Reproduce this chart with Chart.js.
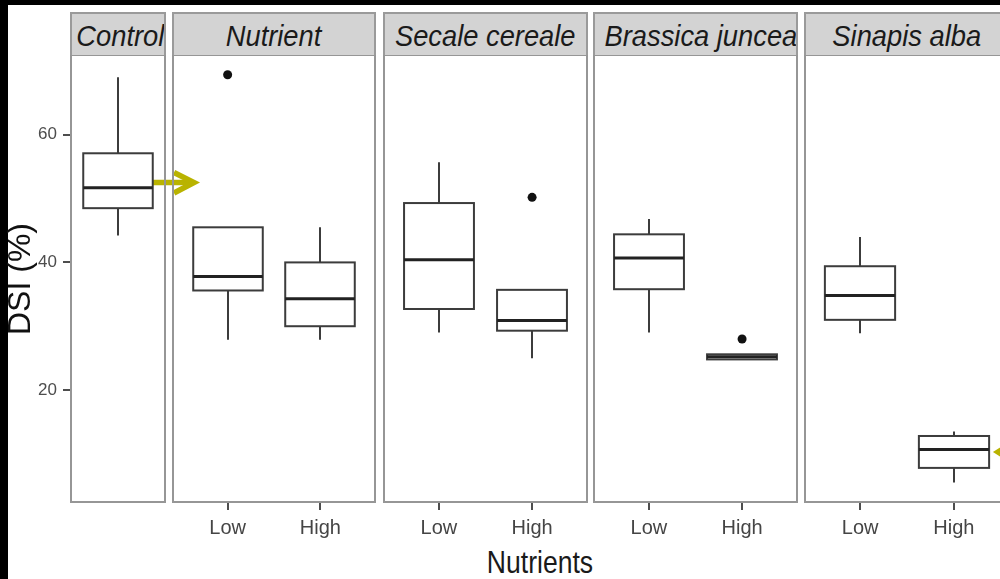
<!DOCTYPE html>
<html>
<head>
<meta charset="utf-8">
<script src="https://cdn.jsdelivr.net/npm/chart.js@4/dist/chart.umd.min.js"></script>
<style>
    body { margin: 0; width: 1000px; height: 579px; overflow: hidden; position: relative; background: #fff; }
    .edge { position: absolute; background: #000; }
    .strip {
        position: absolute; top: 12px; height: 43px; box-sizing: border-box;
        background: #d3d3d3; border: 2px solid #9a9a9a; border-bottom: none;
        font: italic 30px 'Liberation Sans', Arial, sans-serif; color: #1a1a1a;
        text-align: center; line-height: 43px; overflow: hidden; white-space: nowrap;
    }
    .strip span { display: inline-block; transform: scaleX(0.91); }
    canvas { position: absolute; top: 55px; }
    #xtitle {
        position: absolute; left: 440px; width: 200px; top: 546px; text-align: center;
        font: 32px 'Liberation Sans', Arial, sans-serif; line-height: 33px; color: #1a1a1a;
        transform: scaleX(0.83);
    }
    #arrows { position: absolute; left: 0; top: 0; pointer-events: none; }
</style>
</head>
<body>
<div class="edge" style="left:0;top:0;width:8px;height:579px"></div>
<div class="edge" style="left:0;top:0;width:1000px;height:5px"></div>
<div id="xtitle">Nutrients</div>
<svg id="arrows" width="1000" height="579">
    <g fill="none" stroke="#b9b300" stroke-width="5.5" stroke-linecap="butt">
        <line x1="148" y1="182.5" x2="192" y2="182.5"/>
        <polyline points="174,172.5 194,182.5 174,193"/>
        <polyline points="1012,443 998,452 1012,461"/>
    </g>
</svg>
<script>
// facettes et groupes
const panelNames = ['Control', 'Nutrient', 'Secale cereale', 'Brassica juncea', 'Sinapis alba'];
const levels = ['Low', 'High'];
const boxPanel = [0, 1, 1, 2, 2, 3, 3, 4, 4];
const boxPos = [1, 1, 2, 1, 2, 1, 2, 1, 2];

// statistiques des boîtes (DSI %)
const whiskerLow = [44.2, 27.9, 27.9, 29.0, 25.0, 29.0, 24.8, 28.9, 5.5];
const q1 = [48.5, 35.6, 30.0, 32.7, 29.3, 35.8, 24.8, 31.0, 7.8];
const median = [51.7, 37.8, 34.3, 40.4, 30.9, 40.7, 25.2, 34.8, 10.7];
const q3 = [57.1, 45.5, 40.0, 49.3, 35.7, 44.4, 25.6, 39.4, 12.8];
const whiskerHigh = [69.0, 45.5, 45.5, 55.7, 35.7, 46.8, 25.6, 44.0, 13.5];

// valeurs aberrantes
const outlierPanel = [1, 2, 3];
const outlierPos = [1, 2, 2];
const outlierValue = [69.4, 50.2, 28.0];

const yTicks = [20, 40, 60];

// mise en page des panneaux (pixels)
const panelLeft = [70, 172, 383, 593, 804];
const panelWidth = [96, 204, 205, 205, 206];

const boxPlugin = {
    id: 'boxes',
    beforeDatasetsDraw(chart, args, opts) {
        const ctx = chart.ctx;
        const a = chart.chartArea;
        const x = chart.scales.x;
        const y = chart.scales.y;
        ctx.save();
        ctx.strokeStyle = '#969696';
        ctx.lineWidth = 2;
        ctx.strokeRect(a.left + 1, a.top, a.right - a.left - 2, a.bottom - a.top - 1);
        boxPanel.forEach((p, k) => {
            if (p !== opts.panel) return;
            const cx = Math.round(x.getPixelForValue(boxPos[k]));
            const hw = x.getPixelForValue(boxPos[k] + 0.375) - x.getPixelForValue(boxPos[k]);
            const yLo = y.getPixelForValue(whiskerLow[k]);
            const yQ1 = y.getPixelForValue(q1[k]);
            const yMed = y.getPixelForValue(median[k]);
            const yQ3 = y.getPixelForValue(q3[k]);
            const yHi = y.getPixelForValue(whiskerHigh[k]);
            ctx.strokeStyle = '#3c3c3c';
            ctx.lineWidth = 2;
            ctx.beginPath();
            ctx.moveTo(cx, yHi); ctx.lineTo(cx, yQ3);
            ctx.moveTo(cx, yQ1); ctx.lineTo(cx, yLo);
            ctx.stroke();
            ctx.fillStyle = '#fff';
            ctx.fillRect(cx - hw, yQ3, 2 * hw, yQ1 - yQ3);
            ctx.strokeRect(cx - hw, yQ3, 2 * hw, yQ1 - yQ3);
            ctx.strokeStyle = '#222';
            ctx.lineWidth = 3;
            ctx.beginPath();
            ctx.moveTo(cx - hw, yMed); ctx.lineTo(cx + hw, yMed);
            ctx.stroke();
        });
        ctx.restore();
    }
};

panelNames.forEach((name, i) => {
    const strip = document.createElement('div');
    strip.className = 'strip';
    strip.style.left = panelLeft[i] + 'px';
    strip.style.width = panelWidth[i] + 'px';
    const label = document.createElement('span');
    label.textContent = name;
    strip.appendChild(label);
    document.body.appendChild(strip);

    const canvas = document.createElement('canvas');
    const left = i === 0 ? 0 : panelLeft[i];
    const width = i === 0 ? panelLeft[0] + panelWidth[0] : panelWidth[i];
    canvas.width = width;
    canvas.height = 524;
    canvas.style.left = left + 'px';
    document.body.appendChild(canvas);

    const groups = i === 0 ? [] : levels;
    const points = [];
    outlierPanel.forEach((p, k) => {
        if (p === i) points.push({ x: outlierPos[k], y: outlierValue[k] });
    });

    new Chart(canvas.getContext('2d'), {
        type: 'scatter',
        data: {
            datasets: [{
                data: points,
                pointRadius: 4.5,
                pointBackgroundColor: '#111',
                pointBorderColor: '#111',
                pointBorderWidth: 0
            }]
        },
        options: {
            responsive: false,
            animation: false,
            events: [],
            layout: { padding: 0, autoPadding: false },
            plugins: {
                legend: { display: false },
                tooltip: { enabled: false },
                boxes: { panel: i }
            },
            scales: {
                x: {
                    type: 'linear',
                    min: i === 0 ? 0.482 : 0.4,
                    max: i === 0 ? 1.518 : 2.6,
                    afterBuildTicks: axis => { axis.ticks = groups.map((g, k) => ({ value: k + 1 })); },
                    afterFit: axis => {
                        axis.height = 76;
                        axis.paddingLeft = 0;
                        axis.paddingRight = 0;
                    },
                    ticks: {
                        callback: value => groups[value - 1],
                        font: { family: 'Liberation Sans', size: 20 },
                        color: '#454545',
                        padding: 6,
                        maxRotation: 0
                    },
                    grid: { drawOnChartArea: false, drawTicks: true, tickLength: 7, color: '#4d4d4d', lineWidth: 2 },
                    border: { display: false }
                },
                y: {
                    display: i === 0,
                    min: 2.3,
                    max: 72.5,
                    afterBuildTicks: axis => { axis.ticks = yTicks.map(v => ({ value: v })); },
                    afterFit: axis => {
                        if (i === 0) axis.width = panelLeft[0];
                        axis.paddingTop = 0;
                        axis.paddingBottom = 0;
                    },
                    ticks: {
                        font: { family: 'Liberation Sans', size: 17 },
                        color: '#4d4d4d',
                        padding: 6
                    },
                    grid: { drawOnChartArea: false, drawTicks: true, tickLength: 7, color: '#4d4d4d', lineWidth: 2 },
                    border: { display: false },
                    title: {
                        display: true,
                        text: 'DSI (%)',
                        font: { family: 'Liberation Sans', size: 32 },
                        color: '#111',
                        padding: { top: 2, bottom: 0 }
                    }
                }
            }
        },
        plugins: [boxPlugin]
    });
});
</script>
</body>
</html>
